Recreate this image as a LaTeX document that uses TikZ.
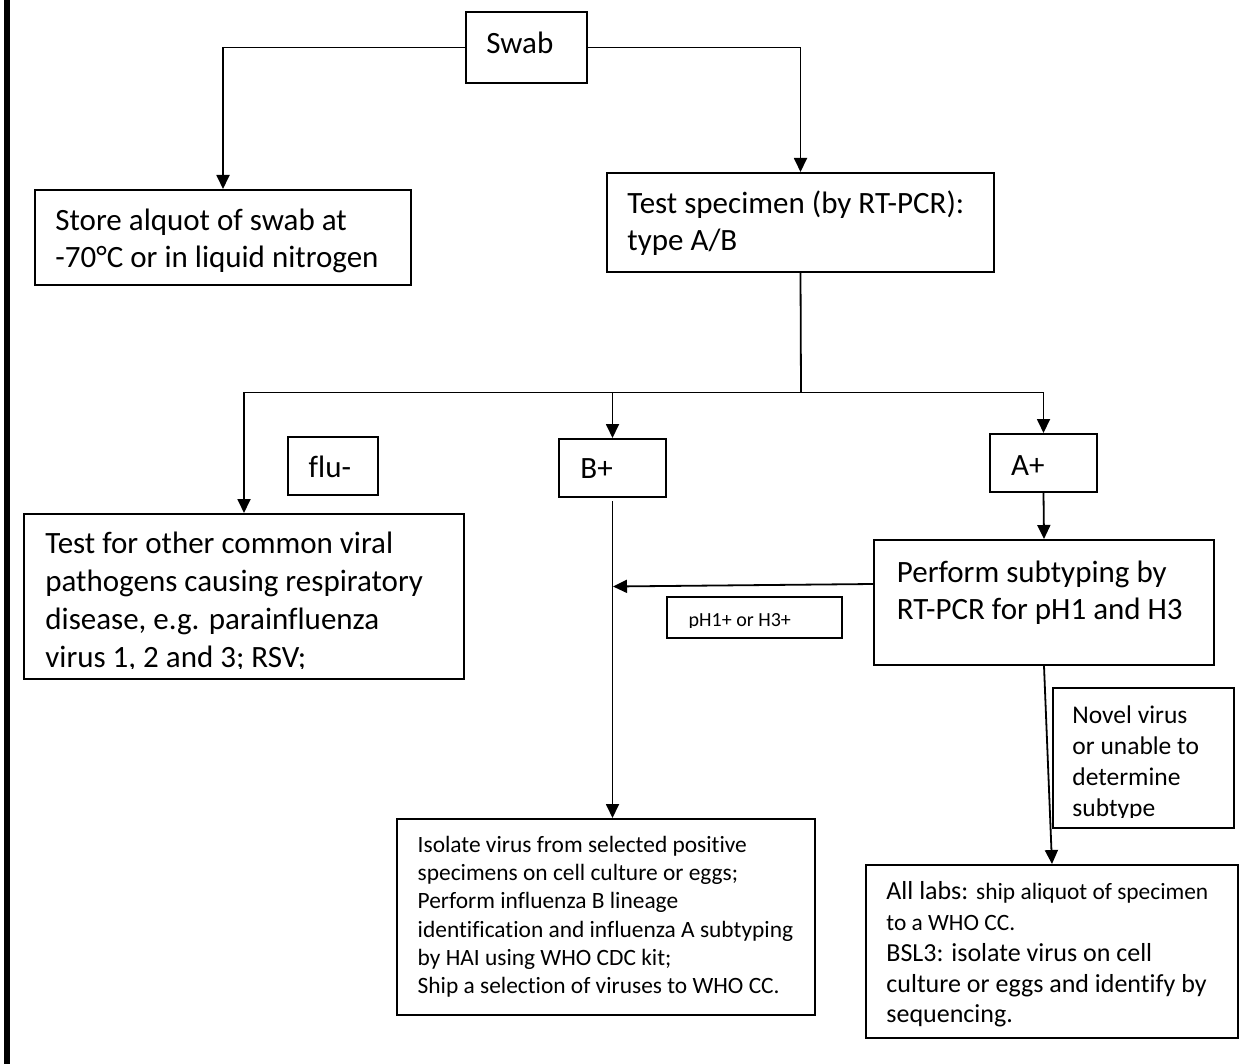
\documentclass[tikz,border=0pt]{standalone}
\usepackage{fontspec}
\setmainfont{Carlito}[Ligatures=NoCommon]
\usetikzlibrary{arrows.meta, fit}
\newcommand{\fbig}{\fontsize{15.5}{18.5}\selectfont}
\newcommand{\fbigx}{\fontsize{15.5}{19}\selectfont}
\newcommand{\fmid}{\fontsize{12.75}{15.5}\selectfont}
\newcommand{\fsml}{\fontsize{11.7}{14.15}\selectfont}
\newcommand{\ftny}{\fontsize{10}{12}\selectfont}
\newcommand{\flab}{\fontsize{13}{15.4}\selectfont}
\newcommand{\flabs}{\fontsize{11.7}{15.4}\selectfont}

\begin{document}
\begin{tikzpicture}[
  x=0.5pt, y=-0.5pt,
  box/.style={draw, line width=1pt, inner sep=0pt},
  txt/.style={anchor=north west, inner sep=0pt, align=left, font=\fbig},
  link/.style={line width=0.9pt},
  arr/.style={link, -{Triangle[length=7pt, width=6.5pt]}},
]
\useasboundingbox (0,0) rectangle (1252,1064);
% Margin bar
\fill (4,0) rectangle (10,1064);
% Boxes
\foreach \name/\xa/\ya/\xb/\yb in {
  swab/466/12/587/83,
  store/35/190/411/285,
  test/607/173/994/272,
  flu/288/437/378/495,
  bplus/559/439/666/497,
  aplus/990/434/1097/492,
  other/24/514/464/679,
  perform/874/540/1214/665,
  ph/667/597/842/638,
  novel/1053/688/1234/828,
  isolate/397/819/815/1015,
  labs/866/865/1238/1038%
}{
  \node[box, fit={(\xa,\ya) (\xb,\yb)}] (\name) {};
}
% Texts
\node[txt] (swab-t) at (486,27.4) {\strut Swab};
\node[txt] (store-t) at (55,204.1) {\strut Store alquot of swab at\\-70°C or in liquid nitrogen};
\node[txt] (test-t) at (627,187.4) {\strut Test specimen (by RT-PCR):\\type A/B};
\node[txt] (flu-t) at (308.3,450.8) {\strut flu-};
\node[txt] (bplus-t) at (580,452.4) {\strut B+};
\node[txt] (aplus-t) at (1010.7,449.1) {\strut A+};
% text cut off at the foot of three boxes
\begin{scope}
  \clip (other.north west) rectangle ([yshift=6pt]other.south east);
  \node[txt, font=\fbigx] (other-t) at (45,526.7) {\strut Test for other common viral\\pathogens causing respiratory\\disease, e.g. parainfluenza\\virus 1, 2 and 3; RSV;};
\end{scope}
\node[txt] (perform-t) at (896.5,555.8) {\strut Perform subtyping by\\RT-PCR for pH1 and H3};
\begin{scope}
  \clip (ph.north west) rectangle ([yshift=6pt]ph.south east);
  \node[txt, font=\ftny] (ph-t) at (688.3,609.7) {\strut pH1+ or H3+};
\end{scope}
\begin{scope}
  \clip (novel.north west) rectangle ([yshift=6pt]novel.south east);
  \node[txt, font=\fmid] (novel-t) at (1072,701) {\strut Novel virus\\or unable to\\determine\\subtype};
\end{scope}
\node[txt, font=\fsml] (isolate-t) at (417.3,831.9) {\strut Isolate virus from selected positive\\specimens on cell culture or eggs;\\Perform influenza B lineage\\identification and influenza A subtyping\\by HAI using WHO CDC kit;\\Ship a selection of viruses to WHO CC.};
\node[txt, font=\flab] (labs-t) at (886,877.7) {\strut All labs: {\flabs ship aliquot of specimen}\\{\flabs to a WHO CC.}\\BSL3: isolate virus on cell\\culture or eggs and identify by\\sequencing.};
% Connectors
\coordinate (split) at (801,392.5);
\coordinate (bjoin) at (613,586.5);
\draw[arr] (swab.west) -| (store.north);
\draw[arr] (swab.east) -| (test.north);
\draw[link] (test.south) -- (split);
\draw[arr] (split) -| (other.north);
\draw[arr] (split) -| (aplus.north);
\draw[arr] (bplus.north |- split) -- (bplus.north);
\draw[arr] (aplus.south) -- (perform.north);
\draw[arr] ([yshift=9.25pt]perform.west) -- (bjoin);
\draw[arr] ([yshift=-1.5pt]bplus.south) -- (bplus.south |- isolate.north);
\draw[arr] (perform.south) -- (labs.north);
\end{tikzpicture}
\end{document}
